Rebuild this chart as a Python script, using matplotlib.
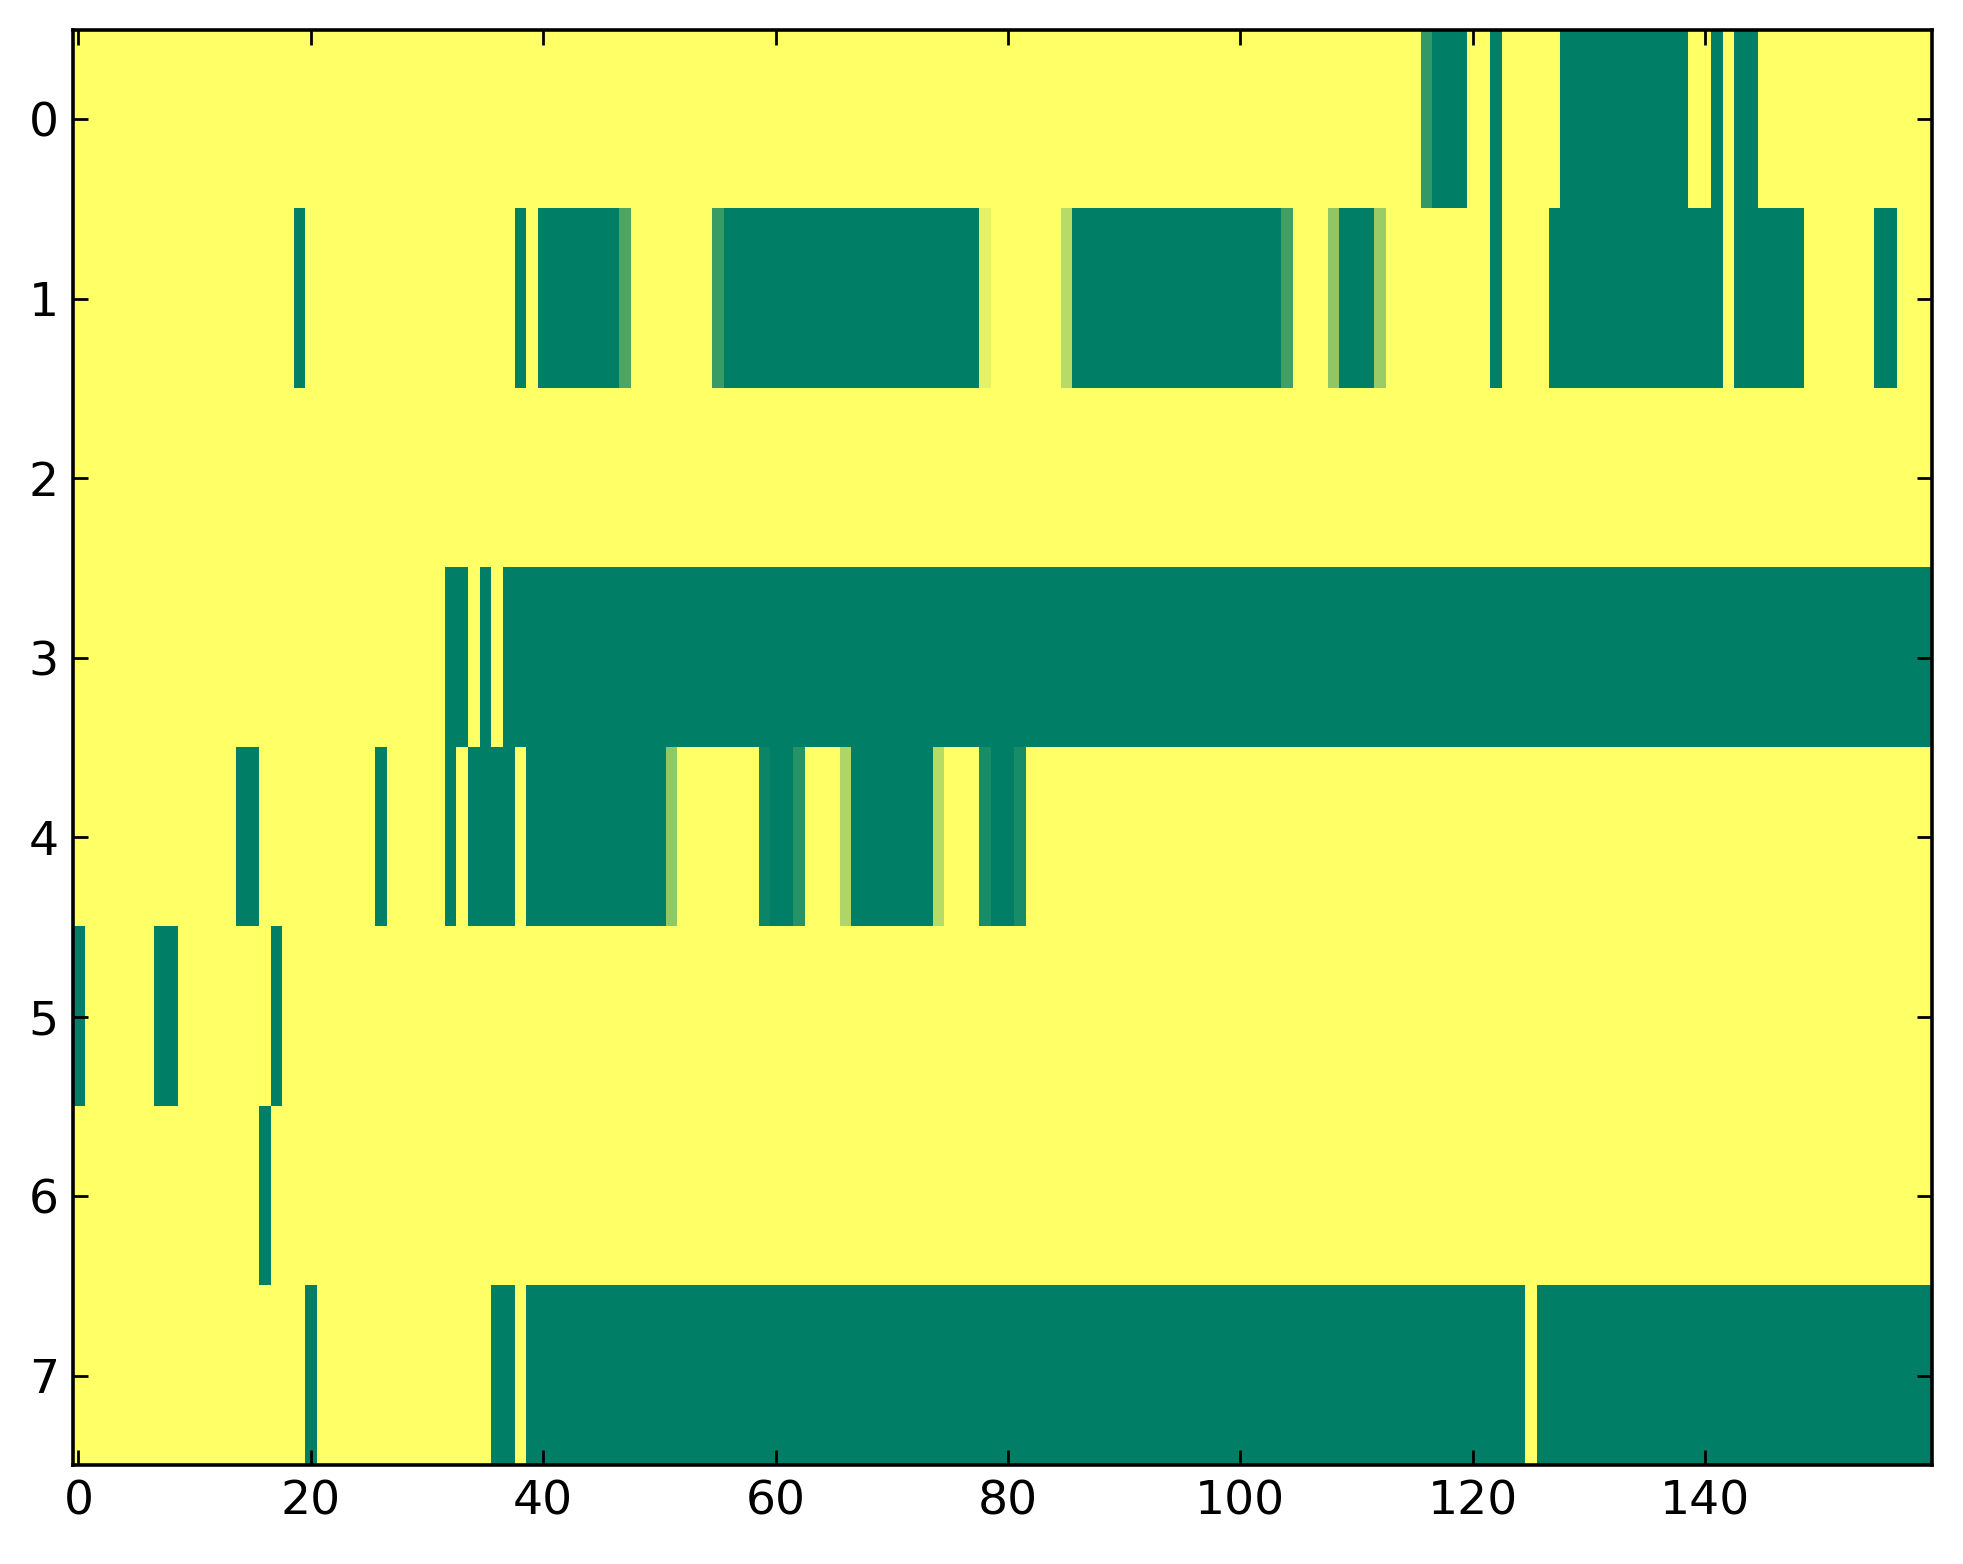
import matplotlib
matplotlib.use("Agg")
import matplotlib.pyplot as plt
import numpy as np

n_rows = 8
n_cols = 160

# runs of (first column, last column, value) for each row; everything else is 0
row0 = [(116, 116, 0.8), (117, 119, 1), (122, 122, 1), (128, 138, 1),
        (141, 141, 1), (143, 144, 1)]
row1 = [(19, 19, 1), (38, 38, 1), (40, 46, 1), (47, 47, 0.7), (55, 55, 0.78),
        (56, 77, 1), (78, 78, 0.1), (85, 85, 0.28), (86, 103, 1), (104, 104, 0.75),
        (108, 108, 0.44), (109, 111, 1), (112, 112, 0.4), (122, 122, 1),
        (127, 141, 1), (143, 148, 1), (155, 156, 1)]
row2 = []
row3 = [(32, 33, 1), (35, 35, 1), (37, 159, 1)]
row4 = [(14, 15, 1), (26, 26, 1), (32, 32, 1), (34, 37, 1), (39, 50, 1),
        (51, 51, 0.43), (59, 59, 0.95), (60, 61, 1), (62, 62, 0.85), (66, 66, 0.32),
        (67, 73, 1), (74, 74, 0.28), (78, 78, 0.9), (79, 80, 1), (81, 81, 0.9)]
row5 = [(0, 0, 1), (7, 8, 1), (17, 17, 1)]
row6 = [(16, 16, 1)]
row7 = [(20, 20, 1), (36, 37, 1), (39, 124, 1), (126, 159, 1)]

rows = [row0, row1, row2, row3, row4, row5, row6, row7]

data = np.zeros((n_rows, n_cols))
for r, runs in enumerate(rows):
    for a, b, v in runs:
        data[r, a:b + 1] = v

plt.rcParams['font.family'] = ['DejaVu Sans']

fig = plt.figure(figsize=(9.815, 7.82), dpi=200)
ax = fig.add_axes([0.037, 0.063, 0.947, 0.918])
ax.imshow(data, cmap="summer_r", vmin=0, vmax=1, aspect="auto",
          interpolation="nearest")

ax.set_xticks(np.arange(0, 160, 20))
ax.set_yticks(np.arange(0, 8))
ax.tick_params(direction="in", length=5.5, width=1, top=True, right=True,
               labelsize=17, pad=5)
for s in ax.spines.values():
    s.set_linewidth(1.3)

fig.savefig("out.png", dpi=200)
